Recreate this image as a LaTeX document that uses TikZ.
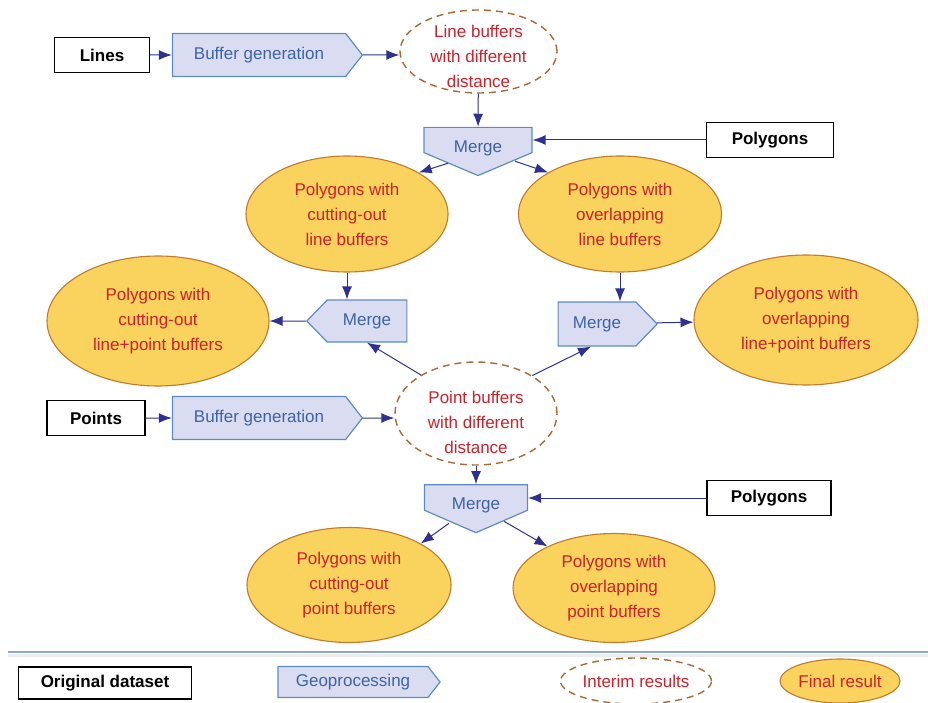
\documentclass[tikz,border=0pt]{standalone}
\usepackage{fontspec}
\setmainfont{Liberation Sans}
\usetikzlibrary{shapes.geometric,shapes.symbols,arrows.meta,calc}

\definecolor{procfill}{HTML}{DADCF1}
\definecolor{procline}{HTML}{5E8CC0}
\definecolor{proctext}{HTML}{3D64A0}
\definecolor{finalfill}{HTML}{F9D35E}
\definecolor{finalline}{HTML}{C27A2C}
\definecolor{interimline}{HTML}{A86A3A}
\definecolor{restext}{HTML}{D0202A}
\definecolor{linkcol}{HTML}{2E3192}
\definecolor{sepcol}{HTML}{8FA8C8}

\newcommand\labelfont{\fontsize{17}{25}\selectfont}

\tikzset{
  dataset/.style={draw=black, line width=1.2pt, fill=white, font=\labelfont\bfseries, minimum height=35, inner sep=0},
  process/.style={signal, draw=procline, fill=procfill, text=proctext, line width=1.2pt, inner sep=0, font=\labelfont},
  mergebox/.style={process, signal to=south, text depth=0pt},
  interim/.style={ellipse, draw=interimline, dash pattern=on 7pt off 5pt, line width=1.4pt, text=restext, align=center, inner sep=0, font=\labelfont},
  final/.style={ellipse, draw=finalline, fill=finalfill, line width=1.1pt, text=restext, align=center, inner sep=0, font=\labelfont},
  link/.style={-{Latex[length=13pt,width=10pt]}, draw=linkcol, line width=1pt},
}

\begin{document}
\begin{tikzpicture}[x=1pt, y=-1pt]
  \useasboundingbox (0,0) rectangle (928,703);

  % line branch
  \node[dataset, minimum width=95] (lines) at (102,55) {Lines};
  \node[process, signal to=east, signal pointer angle=104, minimum width=190, minimum height=43] (bufl) at (259,55) {Buffer generation};
  \node[interim, minimum width=157, minimum height=83, text height=73pt, inner ysep=-12pt] (lbuf) at (478.5,51.5) {Line buffers\\with different\\distance};
  \node[mergebox, signal pointer angle=134, minimum width=108, minimum height=35.5, text height=25pt] (mtop) at (478,140) {Merge};
  \node[dataset, minimum width=127] (polyt) at (770,140) {Polygons};
  \node[final, minimum width=202, minimum height=116] (cutl) at (347,214) {Polygons with\\cutting-out\\line buffers};
  \node[final, minimum width=203, minimum height=116] (ovl) at (620,214) {Polygons with\\overlapping\\line buffers};

  % combined results
  \node[process, signal to=west, signal pointer angle=92, minimum width=100, minimum height=42] (mleft) at (367,321) {Merge};
  \node[final, minimum width=222, minimum height=130] (cutlp) at (158,321) {Polygons with\\cutting-out\\line+point buffers};
  \node[process, signal to=east, signal pointer angle=92, minimum width=99, minimum height=44] (mright) at (597,324) {Merge};
  \node[final, minimum width=224, minimum height=130] (ovlp) at (806,320) {Polygons with\\overlapping\\line+point buffers};

  % point branch
  \node[dataset, minimum width=98] (points) at (96,418) {Points};
  \node[process, signal to=east, signal pointer angle=104, minimum width=190, minimum height=43] (bufp) at (259,418) {Buffer generation};
  \node[interim, minimum width=162, minimum height=103, text height=81pt, inner ysep=-8pt] (pbuf) at (476,413.5) {Point buffers\\with different\\distance};
  \node[mergebox, signal pointer angle=133, minimum width=103, minimum height=36, text height=24pt] (mbot) at (476,497.5) {Merge};
  \node[dataset, minimum width=124] (polyb) at (769,498) {Polygons};
  \node[final, minimum width=204, minimum height=115] (cutp) at (349,585) {Polygons with\\cutting-out\\point buffers};
  \node[final, minimum width=202, minimum height=109] (ovp) at (614,588) {Polygons with\\overlapping\\point buffers};

  % connectors
  \draw[link] (lines) -- (bufl);
  \draw[link] (bufl) -- (bufl -| lbuf.west);
  \draw[link] (lbuf) -- (mtop);
  \draw[link] (polyt) -- (polyt -| mtop.east);
  \draw[link] ($(mtop.south)+(-30,-13)$) -- (cutl.30);
  \draw[link] ($(mtop.south)+(37,-15)$) -- (ovl.150);
  \draw[link] (cutl.south) -- (cutl.south |- mleft.north);
  \draw[link] (mleft) -- (cutlp);
  \draw[link] (ovl.south) -- (ovl.south |- mright.north);
  \draw[link] (mright) -- (ovlp);
  \draw[link] (points) -- (bufp);
  \draw[link] (bufp) -- (bufp -| pbuf.west);
  \draw[link] (pbuf.145) -- (mleft.-90);
  \draw[link] (pbuf.34) -- (mright.-105);
  \draw[link] (pbuf) -- (mbot);
  \draw[link] (polyb) -- (polyb -| mbot.east);
  \draw[link] ($(mbot.south)+(-27,-10)$) -- (cutp.30);
  \draw[link] ($(mbot.south)+(28,-12)$) -- (ovp.148);

  % legend
  \draw[gray!15, line width=3pt] (8,655) -- (928,655);
  \draw[sepcol, line width=1.5pt] (8,652) -- (928,652);
  \node[dataset, minimum width=173, minimum height=32] (legdata) at (105,683) {Original dataset};
  \node[process, signal to=east, signal pointer angle=104, minimum width=162, minimum height=31] (legproc) at (353,682) {Geoprocessing};
  \node[interim, minimum width=144, minimum height=46] (legint) at (636,681) {Interim results};
  \node[final, minimum width=120, minimum height=44] (legfin) at (840,681) {Final result};
\end{tikzpicture}
\end{document}
